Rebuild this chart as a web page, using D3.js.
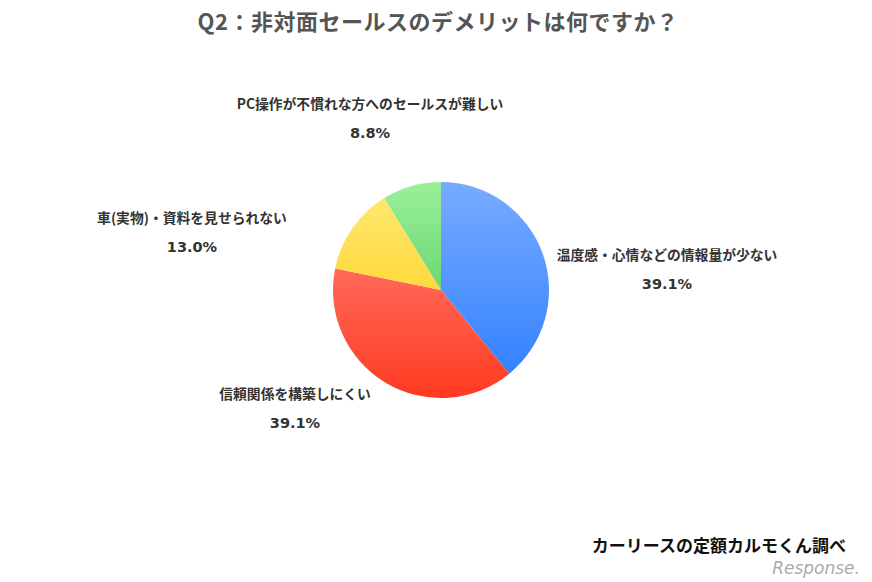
<!DOCTYPE html>
<html><head><meta charset="utf-8">
<script src="https://cdn.jsdelivr.net/npm/d3@7"></script>
<style>body{margin:0;background:#fff}svg{display:block}</style>
</head><body>
<script>
const categories = ["温度感・心情などの情報量が少ない","信頼関係を構築しにくい","車(実物)・資料を見せられない","PC操作が不慣れな方へのセールスが難しい"];
const values = [39.1, 39.1, 13.0, 8.8];
const valueLabels = ["39.1%","39.1%","13.0%","8.8%"];
const gradTop = ["#78abff","#ff8a80","#ffea78","#9af09a"];
const gradBottom = ["#2b7dff","#ff3a20","#ffc800","#3cbf4c"];
const labelPos = [[667,255],[295,394],[192,218],[370,104]];

const W=872,H=582;
const svg=d3.select("body").append("svg").attr("width",W).attr("height",H);
const font="'Noto Sans CJK JP','Noto Sans',sans-serif";
svg.append("text").attr("x",438).attr("y",30).attr("text-anchor","middle")
 .attr("font-family",font).attr("font-weight","bold").attr("font-size",22).attr("fill","#555")
 .attr("letter-spacing",0.5)
 .text("Q2：非対面セールスのデメリットは何ですか？");

const cx=441,cy=290,r=108;
const defs=svg.append("defs");
values.forEach((v,i)=>{
 const g=defs.append("linearGradient").attr("id","g"+i).attr("gradientUnits","userSpaceOnUse")
  .attr("x1",0).attr("y1",-r).attr("x2",0).attr("y2",r);
 g.append("stop").attr("offset","0%").attr("stop-color",gradTop[i]);
 g.append("stop").attr("offset","100%").attr("stop-color",gradBottom[i]);
});
const pie=d3.pie().sort(null).value(d=>d);
const arc=d3.arc().innerRadius(0).outerRadius(r);
const gp=svg.append("g").attr("transform",`translate(${cx},${cy})`);
gp.selectAll("path").data(pie(values)).join("path")
 .attr("d",arc).attr("fill",(d,i)=>`url(#g${i})`);

categories.forEach((c,i)=>{
 const [x,y]=labelPos[i];
 svg.append("text").attr("x",x).attr("y",y+5).attr("text-anchor","middle")
  .attr("font-family",font).attr("font-weight","bold").attr("font-size",13.8).attr("fill","#333").text(c);
 svg.append("text").attr("x",x).attr("y",y+34).attr("text-anchor","middle")
  .attr("font-family","'DejaVu Sans',sans-serif").attr("font-weight","bold").attr("font-size",14.5).attr("fill","#333").text(valueLabels[i]);
});

svg.append("text").attr("x",846).attr("y",552).attr("text-anchor","end")
 .attr("font-family",font).attr("font-weight","bold").attr("font-size",17).attr("fill","#111")
 .text("カーリースの定額カルモくん調べ");
svg.append("text").attr("x",860).attr("y",574).attr("text-anchor","end")
 .attr("font-family","'DejaVu Sans',sans-serif").attr("font-size",17).attr("fill","#aaa")
 .attr("font-style","italic").text("Response.");
</script>
</body></html>
